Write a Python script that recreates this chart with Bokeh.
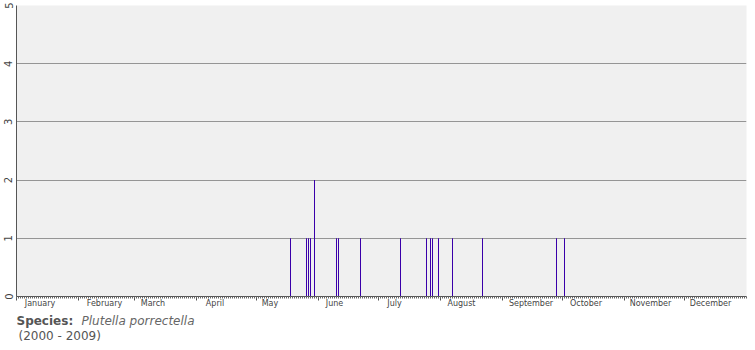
from bokeh.plotting import figure
from bokeh.layouts import column
from bokeh.models import (Range1d, FixedTicker, Label, ColumnDataSource, LinearAxis,
                          CustomJSTickFormatter)
from bokeh.embed import file_html
from bokeh.resources import INLINE

# ---- data (day of year, 0 = 1 January) ----
days = [137, 145, 146, 147, 149, 160, 161, 172, 192, 205, 207, 208, 211, 218, 233, 270, 274]
counts = [1, 1, 1, 1, 2, 1, 1, 1, 1, 1, 1, 1, 1, 1, 1, 1, 1]
month_names = ["January", "February", "March", "April", "May", "June",
               "July", "August", "September", "October", "November", "December"]
month_starts = [0, 31, 59, 90, 120, 151, 181, 212, 243, 273, 304, 334]
y_ticks = [0, 1, 2, 3, 4, 5]
species_label = "Species:"
species_name = "Plutella porrectella"
years_text = "(2000 - 2009)"

p = figure(width=755, height=312, output_backend="svg", toolbar_location=None,
           x_range=Range1d(0, 365), y_range=Range1d(0, 5), x_axis_location=None,
           min_border_left=16, min_border_right=9, min_border_top=5, min_border_bottom=16)
p.background_fill_color = "#f0f0f0"
p.border_fill_color = "white"
p.outline_line_color = None

# grid
p.xgrid.grid_line_color = None
p.ygrid.grid_line_color = "#959595"
p.ygrid.ticker = FixedTicker(ticks=y_ticks)

# y axis
p.yaxis.ticker = FixedTicker(ticks=y_ticks)
p.yaxis.major_label_orientation = "vertical"
p.yaxis.major_label_text_font = "DejaVu Sans"
p.yaxis.major_label_text_font_size = "10px"
p.yaxis.major_label_text_color = "#444444"
p.yaxis.major_tick_out = 0
p.yaxis.major_tick_in = 0
p.yaxis.minor_tick_out = 0
p.yaxis.minor_tick_in = 0
p.yaxis.major_label_standoff = 4
p.yaxis.axis_line_color = "#555555"

# x axis: ticks (month starts long, days short)
tick_axis = LinearAxis(ticker=FixedTicker(ticks=month_starts, minor_ticks=list(range(0, 366))),
                       formatter=CustomJSTickFormatter(code="return ''"),
                       major_tick_out=4, major_tick_in=0, minor_tick_out=2, minor_tick_in=0,
                       major_label_standoff=0,
                       major_tick_line_color="#555555", minor_tick_line_color="#666666",
                       axis_line_color="#555555")
p.add_layout(tick_axis, "below")

# x axis: month names, left-aligned just after each month start
label_pos = [s + 3 + len(n) * 1.25 for s, n in zip(month_starts, month_names)]
label_axis = LinearAxis(ticker=FixedTicker(ticks=label_pos),
                        major_label_overrides={pos: n for pos, n in zip(label_pos, month_names)},
                        major_tick_out=0, major_tick_in=0, minor_tick_out=0, minor_tick_in=0,
                        major_label_standoff=-2, axis_line_color=None,
                        major_label_text_font="DejaVu Sans", major_label_text_font_size="8px",
                        major_label_text_color="#444444")
p.add_layout(label_axis, "below")

src = ColumnDataSource(data=dict(day=days, count=counts))
p.vbar(x="day", width=0.5, bottom=0, top="count",
       source=src, fill_color="#3a00aa", line_color=None)

# caption strip below the chart (its frame is aligned with the chart frame)
cap = figure(width=755, height=38, output_backend="svg", toolbar_location=None,
             x_range=Range1d(0, 730), y_range=Range1d(0, 38),
             min_border_left=16, min_border_right=9, min_border_top=0, min_border_bottom=0,
             x_axis_location=None, y_axis_location=None)
cap.outline_line_color = None
cap.grid.visible = False
cap.background_fill_color = "white"
cap.add_layout(Label(x=0, y=30, text=species_label, text_baseline="middle",
                     text_font="DejaVu Sans", text_font_size="12px",
                     text_font_style="bold", text_color="#555555"))
cap.add_layout(Label(x=65, y=30, text=species_name, text_baseline="middle",
                     text_font="DejaVu Sans", text_font_size="12px",
                     text_font_style="italic", text_color="#666666"))
cap.add_layout(Label(x=2, y=15, text=years_text, text_baseline="middle",
                     text_font="DejaVu Sans", text_font_size="12px",
                     text_color="#555555"))

layout = column(p, cap, spacing=0)
open("out.html", "w").write(file_html(layout, INLINE))
